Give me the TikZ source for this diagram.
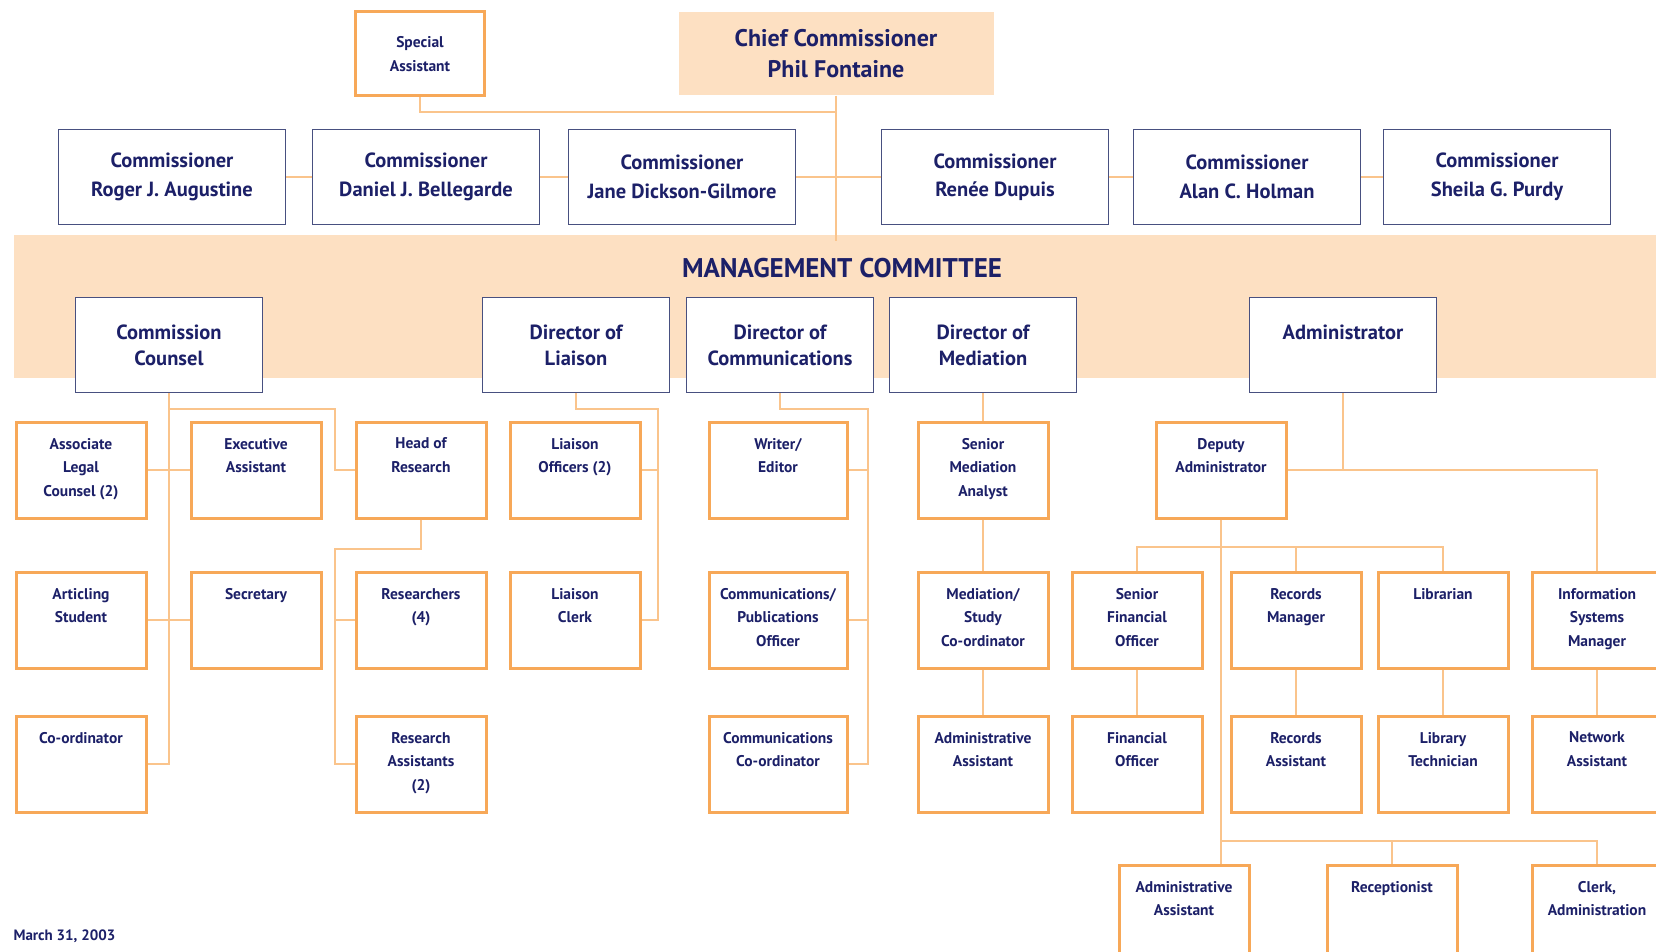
\documentclass[tikz,border=0pt]{standalone}
\usepackage{fontspec}
\setmainfont{PT Sans}
\definecolor{cNavy}{RGB}{28,32,104}
\definecolor{cFrame}{RGB}{72,80,128}
\definecolor{cOrange}{RGB}{247,168,88}
\definecolor{cLine}{RGB}{250,196,140}
\definecolor{cBand}{RGB}{253,224,194}
\tikzset{
	bandbox/.style  ={rectangle, fill=cBand, minimum width=1642pt, minimum height=143pt, inner sep=0pt},
	bandtitle/.style={font=\fontsize{27}{30}\selectfont\bfseries, text=cNavy},
	chiefbox/.style ={rectangle, fill=cBand, minimum width=315pt, minimum height=83pt, align=center, text=cNavy, font=\fontsize{24}{31}\selectfont\bfseries},
	commbox/.style  ={rectangle, draw=cFrame, line width=1.5pt, fill=white, minimum width=227pt, minimum height=95pt, align=center, text=cNavy, font=\fontsize{20.5}{28.5}\selectfont\bfseries},
	headbox/.style  ={rectangle, draw=cFrame, line width=1.5pt, fill=white, minimum width=187pt, minimum height=95pt, inner ysep=0pt, inner xsep=-12pt, text=cNavy, font=\fontsize{20.5}{26.5}\selectfont\bfseries,
		execute at begin node={\begin{minipage}[c][95pt][t]{211pt}\centering\vspace*{27pt}}, execute at end node={\end{minipage}}},
	staffbox/.style ={rectangle, draw=cOrange, line width=3pt, fill=white, minimum width=130pt, minimum height=96pt, inner ysep=0pt, inner xsep=-15pt, text=cNavy, font=\fontsize{15.5}{23.5}\selectfont\bfseries,
		execute at begin node={\begin{minipage}[c][96pt][t]{160pt}\centering\vspace*{16pt}}, execute at end node={\end{minipage}}},
	wide/.style     ={minimum width=138pt, inner xsep=-11pt},
	specbox/.style  ={rectangle, draw=cOrange, line width=3pt, fill=white, minimum width=129pt, minimum height=84pt, align=center, text=cNavy, font=\fontsize{15.5}{24}\selectfont\bfseries},
	link/.style     ={draw=cLine, line width=2pt},
}
\begin{document}
\begin{tikzpicture}[x=1pt, y=-1pt]
	\useasboundingbox (0,0) rectangle (1656,952);
	% management band
	\node[bandbox] (band) at (835,306.5) {};
	\node[bandtitle] (mgmt) at (842,268) {MANAGEMENT COMMITTEE};
	% commission
	\node[specbox] (spec) at (420,54) {Special\\Assistant};
	\node[chiefbox] (chief) at (836,54) {Chief Commissioner\\Phil Fontaine};
	\node[commbox] (com1) at (172,177) {Commissioner\\Roger J. Augustine};
	\node[commbox] (com2) at (426,177) {Commissioner\\Daniel J. Bellegarde};
	\node[commbox] (com3) at (682,177) {Commissioner\\Jane Dickson-Gilmore};
	\node[commbox] (com4) at (995,177) {Commissioner\\Ren\'ee Dupuis};
	\node[commbox] (com5) at (1247,177) {Commissioner\\Alan C. Holman};
	\node[commbox] (com6) at (1497,177) {Commissioner\\Sheila G. Purdy};
	% directors
	\node[headbox] (cc)   at (169,345)  {Commission\\Counsel};
	\node[headbox] (dlia) at (576,345)  {Director of\\Liaison};
	\node[headbox] (dcom) at (780,345)  {Director of\\Communications};
	\node[headbox] (dmed) at (983,345)  {Director of\\Mediation};
	\node[headbox] (adm)  at (1343,345) {Administrator};
	% staff, row by row
	\node[staffbox] (alc) at (81,470)   {Associate\\Legal\\Counsel (2)};
	\node[staffbox] (exa) at (256,470)  {Executive\\Assistant};
	\node[staffbox] (hor) at (421,470)  {Head of\\Research};
	\node[staffbox] (lof) at (575,470)  {Liaison\\Officers (2)};
	\node[staffbox, wide] (wri) at (778,470) {Writer/\\Editor};
	\node[staffbox] (sma) at (983,470)  {Senior\\Mediation\\Analyst};
	\node[staffbox] (dep) at (1221,470) {Deputy\\Administrator};
	\node[staffbox] (art) at (81,620)   {Articling\\Student};
	\node[staffbox] (sec) at (256,620)  {Secretary};
	\node[staffbox] (res) at (421,620)  {Researchers\\(4)};
	\node[staffbox] (lcl) at (575,620)  {Liaison\\Clerk};
	\node[staffbox, wide] (cpo) at (778,620) {Communications/\\Publications\\Officer};
	\node[staffbox] (msc) at (983,620)  {Mediation/\\Study\\Co-ordinator};
	\node[staffbox] (sfo) at (1137,620) {Senior\\Financial\\Officer};
	\node[staffbox] (rcm) at (1296,620) {Records\\Manager};
	\node[staffbox] (lib) at (1443,620) {Librarian};
	\node[staffbox] (ism) at (1597,620) {Information\\Systems\\Manager};
	\node[staffbox] (cor) at (81,764)   {Co-ordinator};
	\node[staffbox] (rsa) at (421,764)  {Research\\Assistants\\(2)};
	\node[staffbox, wide] (cco) at (778,764) {Communications\\Co-ordinator};
	\node[staffbox] (maa) at (983,764)  {Administrative\\Assistant};
	\node[staffbox] (fio) at (1137,764) {Financial\\Officer};
	\node[staffbox] (rca) at (1296,764) {Records\\Assistant};
	\node[staffbox] (lbt) at (1443,764) {Library\\Technician};
	\node[staffbox] (nwa) at (1597,764) {Network\\Assistant};
	\node[staffbox] (aas) at (1184,913) {Administrative\\Assistant};
	\node[staffbox] (rcp) at (1392,913) {Receptionist};
	\node[staffbox] (clk) at (1597,913) {Clerk,\\Administration};
	\node[anchor=north west, text=cNavy, font=\fontsize{15}{18}\selectfont\bfseries] (date) at (10,926) {March 31, 2003};
	% connectors
	\draw[link] (chief.south) -- ([yshift=-6pt]chief.south |- band.north);
	\draw[link] (spec.south) -- ++(0,15) -| (chief.south);
	\draw[link] (com1.east) -- (com2.west);
	\draw[link] (com2.east) -- (com3.west);
	\draw[link] (com3.east) -- (com4.west);
	\draw[link] (com4.east) -- (com5.west);
	\draw[link] (com5.east) -- (com6.west);
	\draw[link] (cc.south) |- (cor.east);
	\draw[link] (alc.east) -- (exa.west);
	\draw[link] (art.east) -- (sec.west);
	\draw[link] (cc.south) -- ++(0,16) -| ([xshift=-20pt]hor.west) -- (hor.west);
	\draw[link] (hor.south) -- ++(0,29) -| ([xshift=-20pt]rsa.west) -- (rsa.west);
	\draw[link] (res.west) -- ++(-20,0);
	\draw[link] (dlia.south) -- ++(0,16) -| ([xshift=16pt]lcl.east) -- (lcl.east);
	\draw[link] (lof.east) -- ++(16,0);
	\draw[link] (dcom.south) -- ++(0,16) -| ([xshift=19pt]cco.east) -- (cco.east);
	\draw[link] (wri.east) -- ++(19,0);
	\draw[link] (cpo.east) -- ++(19,0);
	\draw[link] (dmed.south) -- (sma.north);
	\draw[link] (sma.south) -- (msc.north);
	\draw[link] (msc.south) -- (maa.north);
	\draw[link] (adm.south) |- (dep.east);
	\draw[link] (dep.east) -| (ism.north);
	\draw[link] (ism.south) -- (nwa.north);
	\draw[link] (dep.south) -- (dep.south |- aas.north);
	\draw[link] (sfo.north) -- ++(0,-24) -| (lib.north);
	\draw[link] (rcm.north) -- ++(0,-24);
	\draw[link] (sfo.south) -- (fio.north);
	\draw[link] (rcm.south) -- (rca.north);
	\draw[link] (lib.south) -- (lbt.north);
	\draw[link] (clk.north) -- ++(0,-23) -| (dep.south);
	\draw[link] (rcp.north) -- ++(0,-23);
\end{tikzpicture}
\end{document}
